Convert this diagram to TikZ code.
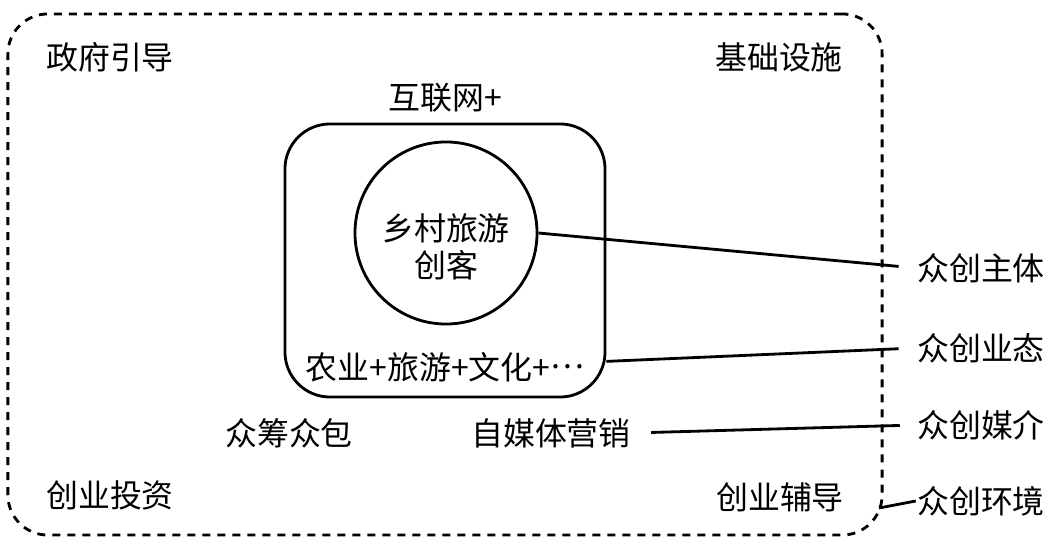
\documentclass[tikz,border=0pt]{standalone}
\usepackage{fontspec}
\newfontfamily\zhfont{Noto Sans CJK SC}
\usetikzlibrary{positioning}

\begin{document}
\begin{tikzpicture}[x=0.025cm, y=-0.025cm, line width=2pt,
    every node/.style={font=\zhfont\fontsize{22.7pt}{26.3pt}\selectfont, inner sep=0pt}]

    \useasboundingbox (0,0) rectangle (1060,544);

    % --- Begin Environment Node ---
    \node [draw, rectangle, dash pattern=on 0.2cm off 0.175cm, rounded corners=1cm, minimum width=21.85cm, minimum height=13.025cm] (Environment) at (445,274.5) {};
    \node (government) at (110,57) {政府引导};
    \node (infrastructure) at (779,57) {基础设施};
    \node (investment) at (110,495) {创业投资};
    \node (coaching) at (780,497) {创业辅导};
    \coordinate (env_corner) at (879,508);
    % --- End Environment Node ---

    % --- Begin Industry Node ---
    \node [draw, rectangle, rounded corners=1.125cm, minimum width=8cm, minimum height=6.825cm] (Industry) at (445,260.5) {};
    \node [above=0.22cm of Industry] (internet) {互联网+};
    \node (industry_text) at (445,367) {农业+旅游+文化+\raisebox{0.33em}{…}};

    % The creator circle sits inside the industry box.
    \node [draw, circle, minimum size=4.55cm] (Creator) at (446,233) {};
    \node [align=center] (creator_text) at (446,246.5) {乡村旅游\\创客};
    % --- End Industry Node ---

    % --- Begin Media Nodes ---
    \node (crowdfunding) at (289,433) {众筹众包};
    \node (self_media) at (551,433) {自媒体营销};
    % --- End Media Nodes ---

    % --- Begin Right Labels ---
    \node (subject) at (981,268) {众创主体};
    \node (format) at (981,348) {众创业态};
    \node (medium) at (981,425) {众创媒介};
    \node (surrounding) at (981,501) {众创环境};
    % --- End Right Labels ---

    % Connect the nodes.
    \draw [shorten >=0.43cm] (Creator.east) -- (subject.west);
    \draw [shorten >=0.43cm] (Industry.-32) -- (format.west);
    \draw [shorten <=0.475cm, shorten >=0.4cm] (self_media.east) -- (medium.west);
    \draw (env_corner) -- (surrounding.west);

\end{tikzpicture}
\end{document}
